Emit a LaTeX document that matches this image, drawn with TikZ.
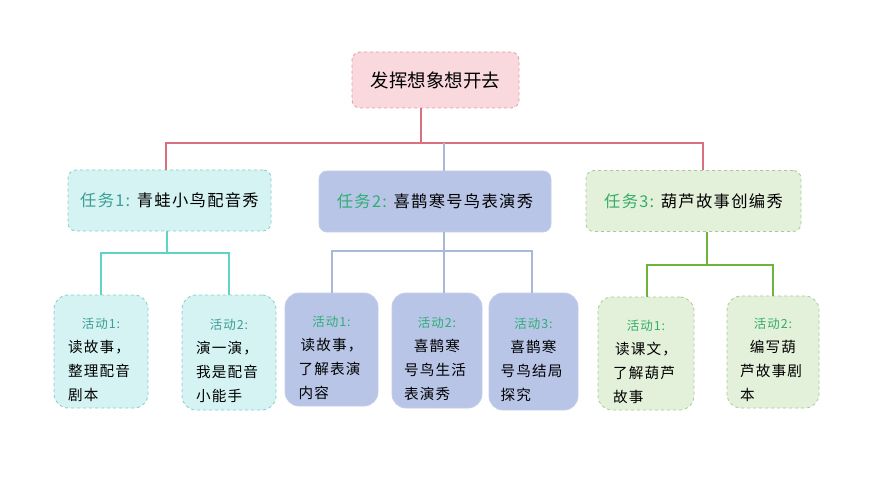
\documentclass[tikz,border=0pt]{standalone}
\usepackage{fontspec}
\setmainfont{Noto Sans CJK SC}
\newfontfamily\cjk[LetterSpace=8]{Noto Sans CJK SC}
\newfontfamily\cjkroot{Noto Sans CJK SC}
\usetikzlibrary{calc}
\definecolor{rootfill}{HTML}{F9D9DE}
\definecolor{rootdraw}{HTML}{E39AA6}
\definecolor{rootline}{HTML}{D9707F}
\definecolor{cyfill}{HTML}{D5F3F3}
\definecolor{cydraw}{HTML}{86CCC7}
\definecolor{cyline}{HTML}{5ED3C7}
\definecolor{cytext}{HTML}{3C9C97}
\definecolor{blfill}{HTML}{B8C5E7}
\definecolor{bldraw}{HTML}{C3CEEA}
\definecolor{blline}{HTML}{A9B7D9}
\definecolor{bltext}{HTML}{2DAF74}
\definecolor{gnfill}{HTML}{E3F0DA}
\definecolor{gndraw}{HTML}{ABC998}
\definecolor{gnline}{HTML}{6DB33F}
\definecolor{gntext}{HTML}{34AE68}
\tikzset{
  x=1pt,y=-1pt,
  rootbox/.style={rectangle,rounded corners=8pt,fill=rootfill,draw=rootdraw,dashed,line width=0.8pt,minimum width=167pt,minimum height=56pt,inner sep=0pt,font=\fontsize{18.5}{22}\selectfont\cjkroot},
  taskbox/.style={rectangle,rounded corners=8pt,line width=0.8pt,minimum height=61pt,inner sep=0pt,font=\fontsize{16.3}{19}\selectfont\cjk},
  actbox/.style={rectangle,rounded corners=14pt,line width=0.8pt,inner sep=0pt,text width=66pt,align=left,font=\fontsize{14.6}{24}\selectfont\cjk},
  cyT/.style={taskbox,fill=cyfill,draw=cydraw,dashed},
  blT/.style={taskbox,fill=blfill,draw=bldraw},
  gnT/.style={taskbox,fill=gnfill,draw=gndraw,dashed},
  cyA/.style={actbox,fill=cyfill,draw=cydraw,dashed},
  blA/.style={actbox,fill=blfill,draw=bldraw},
  gnA/.style={actbox,fill=gnfill,draw=gndraw,dashed},
  conn/.style={line width=1.8pt},
}
\newcommand{\lab}[2]{\makebox[\linewidth][c]{\rule{0pt}{27pt}\fontsize{12.5}{14}\selectfont\textcolor{#1}{#2}}}
\newcommand{\ctr}[1]{\makebox[\linewidth][c]{#1}}
\begin{document}
\begin{tikzpicture}
\useasboundingbox (0,0) rectangle (870,489);
\fill[white] (0,0) rectangle (870,489);
% root
\node[rootbox] (root) at (435.5,80) {发挥想象想开去};
% tasks
\node[cyT,minimum width=203pt] (t1) at (169.5,200.5) {\textcolor{cytext}{任务1:} 青蛙小鸟配音秀};
\node[blT,minimum width=232pt] (t2) at (435,201.5) {\textcolor{bltext}{任务2:} 喜鹊寒号鸟表演秀};
\node[gnT,minimum width=215pt] (t3) at (693.5,201) {\textcolor{gntext}{任务3:} 葫芦故事创编秀};
% activities
\node[cyA,minimum width=94pt,minimum height=113pt] (a1) at (101,351.5) {\lab{cytext}{活动1:}\\读故事，\\整理配音\\剧本};
\node[cyA,minimum width=94pt,minimum height=115pt] (a2) at (229,352.5) {\lab{cytext}{活动2:}\\演一演，\\我是配音\\小能手};
\node[blA,minimum width=93pt,minimum height=113pt] (b1) at (331.5,349.5) {\lab{bltext}{活动1:}\\\ctr{读故事，}\\了解表演\\内容};
\node[blA,minimum width=90pt,minimum height=115pt] (b2) at (437,350.5) {\lab{bltext}{活动2:}\\\ctr{喜鹊寒}\\号鸟生活\\表演秀};
\node[blA,minimum width=89pt,minimum height=117pt] (b3) at (533.5,351.5) {\lab{bltext}{活动3:}\\\ctr{喜鹊寒}\\号鸟结局\\探究};
\node[gnA,minimum width=96pt,minimum height=113pt] (c1) at (646,353.5) {\lab{gntext}{活动1:}\\\ctr{读课文，}\\了解葫芦\\故事};
\node[gnA,minimum width=92pt,minimum height=112pt] (c2) at (773,352) {\lab{gntext}{活动2:}\\\ctr{编写葫}\\芦故事剧\\本};
% level 1 connectors
\coordinate (rj) at (421,143);
\coordinate (k1) at (166,143);
\coordinate (k2) at (444,143);
\coordinate (k3) at (703,143);
\draw[conn,rootline] (root.south -| rj) -- (rj);
\draw[conn,rootline] (k1 |- t1.north) -- (k1) -- (k3) -- (k3 |- t3.north);
\draw[conn,blline] (k2) -- (k2 |- t2.north);
% task1 connectors
\coordinate (p1) at (167,253);
\coordinate (p1l) at (101,253);
\coordinate (p1r) at (229,253);
\draw[conn,cyline] (t1.south -| p1) -- (p1);
\draw[conn,cyline] (a1.north -| p1l) -- (p1l) -- (p1r) -- (a2.north -| p1r);
% task2 connectors
\coordinate (p2) at (444,251);
\coordinate (p2l) at (332,251);
\coordinate (p2r) at (532,251);
\draw[conn,blline] (t2.south -| p2) -- (b2.north -| p2);
\draw[conn,blline] (b1.north -| p2l) -- (p2l) -- (p2r) -- (b3.north -| p2r);
% task3 connectors
\coordinate (p3) at (707,265);
\coordinate (p3l) at (647,265);
\coordinate (p3r) at (773,265);
\draw[conn,gnline] (t3.south -| p3) -- (p3);
\draw[conn,gnline] (c1.north -| p3l) -- (p3l) -- (p3r) -- (c2.north -| p3r);
\end{tikzpicture}
\end{document}
